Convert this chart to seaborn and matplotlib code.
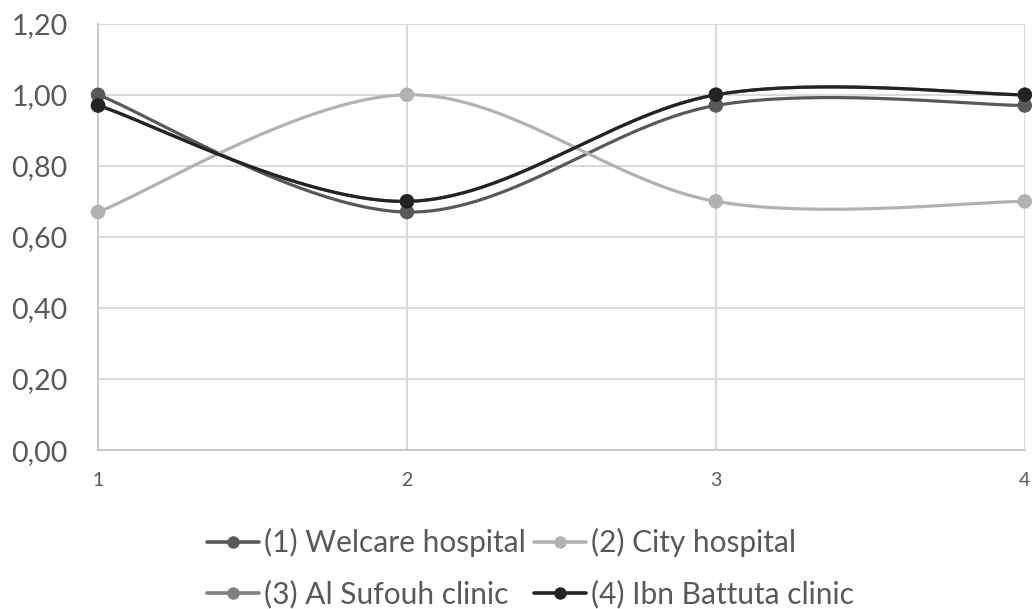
import numpy as np
import pandas as pd
import matplotlib
matplotlib.use("Agg")
import matplotlib.pyplot as plt
from matplotlib.lines import Line2D
import seaborn as sns

# Data
periods = [1, 2, 3, 4]
welcare = [1.00, 0.67, 0.97, 0.97]
city = [0.67, 1.00, 0.70, 0.70]
al_sufouh = [0.97, 0.70, 1.00, 1.00]
ibn_battuta = [0.97, 0.70, 1.00, 1.00]
series_names = ["(1) Welcare hospital", "(2) City hospital",
                "(3) Al Sufouh clinic", "(4) Ibn Battuta clinic"]
series_values = [welcare, city, al_sufouh, ibn_battuta]
colors = ["#595959", "#b2b2b2", "#7f7f7f", "#232323"]
y_ticks = [0.0, 0.2, 0.4, 0.6, 0.8, 1.0, 1.2]


def smooth(xv, yv, n=60):
    """Catmull-Rom curve through the points (smoothed-line style)."""
    p = np.column_stack([xv, yv]).astype(float)
    ext = np.vstack([p[0], p, p[-1]])
    out = []
    for i in range(1, len(ext) - 2):
        p0, p1, p2, p3 = ext[i - 1], ext[i], ext[i + 1], ext[i + 2]
        c1 = p1 + (p2 - p0) / 6.0
        c2 = p2 - (p3 - p1) / 6.0
        t = np.linspace(0, 1, n)[:, None]
        seg = ((1 - t) ** 3) * p1 + 3 * ((1 - t) ** 2) * t * c1 \
            + 3 * (1 - t) * t ** 2 * c2 + t ** 3 * p2
        out.append(seg if i == 1 else seg[1:])
    s = np.vstack(out)
    return s[:, 0], s[:, 1]


sns.set_theme(style="white")
plt.rcParams["font.family"] = ["Lato", "DejaVu Sans"]

fig = plt.figure(figsize=(10.32, 6.09), dpi=100)
ax = fig.add_axes([0.095, 0.261, 0.898, 0.7])

for name, vals, col in zip(series_names, series_values, colors):
    sx, sy = smooth(periods, vals)
    df = pd.DataFrame({"x": sx, "y": sy})
    sns.lineplot(data=df, x="x", y="y", sort=False, estimator=None,
                 color=col, linewidth=2.3, ax=ax, zorder=3)
    pts = pd.DataFrame({"x": periods, "y": vals})
    sns.scatterplot(data=pts, x="x", y="y", color=col, s=110,
                    edgecolor="none", ax=ax, zorder=4, clip_on=False)

ax.set_xlim(1, 4)
ax.set_ylim(0, 1.2)
ax.set_xticks(periods)
ax.set_xticklabels([str(p) for p in periods], fontsize=14, color="#595959")
ax.set_yticks(y_ticks)
ax.set_yticklabels([f"{v:.2f}".replace(".", ",") for v in y_ticks],
                   fontsize=20.5, color="#595959")
ax.tick_params(axis="x", length=0, pad=16)
ax.tick_params(axis="y", length=0, pad=22)
ax.set_xlabel("")
ax.set_ylabel("")
ax.grid(True, color="#d9d9d9", linewidth=1.4)
ax.set_axisbelow(True)
for side in ["top", "right"]:
    ax.spines[side].set_visible(False)
for side in ["left", "bottom"]:
    ax.spines[side].set_color("#c8c8c8")
    ax.spines[side].set_linewidth(1.4)


def handle(col):
    return Line2D([0], [0], color=col, linewidth=2.6, marker="o",
                  markersize=9, markeredgecolor="none")


# two columns: (1),(3) on the left, (2),(4) on the right
order = [0, 2, 1, 3]
fig.legend([handle(colors[i]) for i in order],
           [series_names[i] for i in order],
           loc="center", bbox_to_anchor=(0.514, 1 - 568 / 609), ncol=2,
           frameon=False, fontsize=21.5, handlelength=1.75,
           handletextpad=0.17, columnspacing=0.27, labelspacing=0.75,
           labelcolor="#595959")

fig.savefig("out.png", dpi=100)
